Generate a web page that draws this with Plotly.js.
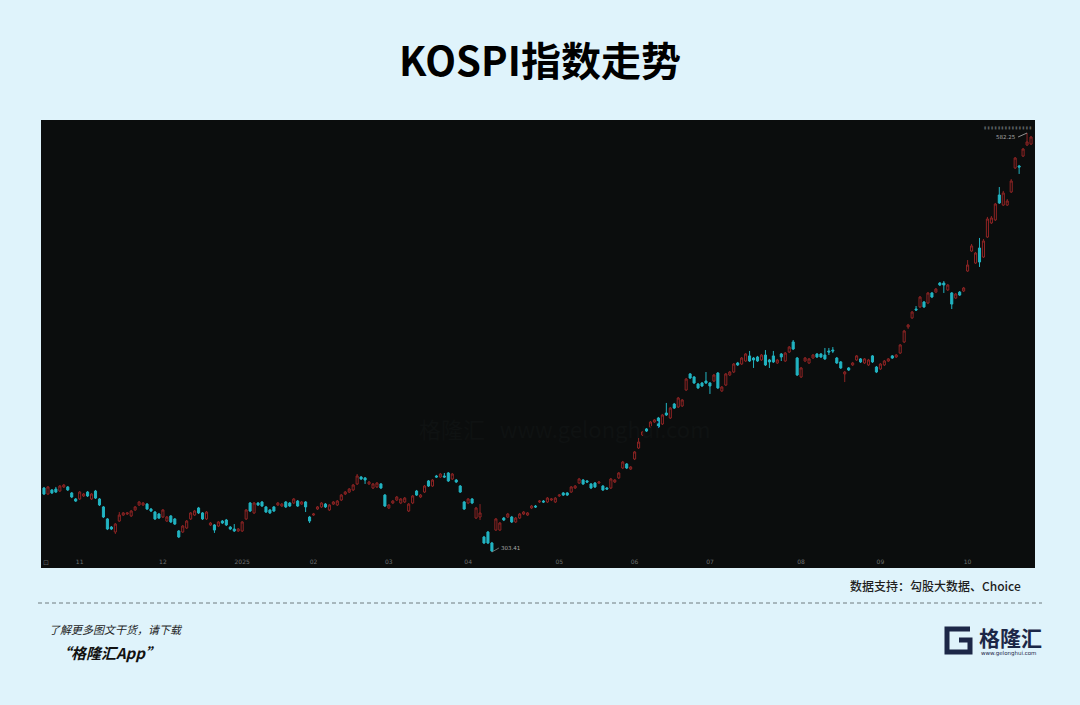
<!DOCTYPE html>
<html>
<head>
<meta charset="utf-8">
<script src="https://cdn.plot.ly/plotly-3.0.1.min.js"></script>
<style>
  html, body { margin: 0; padding: 0; background: #dff3fb; }
  #chart { width: 1080px; height: 705px; }
</style>
</head>
<body>
<div id="chart"></div>
<script>
// KOSPI 200 daily candles, Oct 2024 - Oct 2025
const openVals = [346.0,342.0,344.7,345.3,344.0,346.7,346.7,342.7,338.7,338.7,340.7,343.3,338.7,344.0,338.7,333.4,325.4,320.0,316.7,324.0,
328.0,328.7,327.4,331.4,334.7,334.7,335.3,332.0,330.0,328.7,326.7,324.0,327.4,325.4,317.4,316.7,319.4,325.4,328.0,332.7,
329.4,325.4,321.4,321.4,320.7,324.0,324.7,320.0,318.7,317.4,317.4,325.4,336.0,329.4,336.0,336.7,333.4,331.4,333.4,334.7,
334.0,336.7,336.0,336.0,337.3,335.3,336.7,326.7,328.0,332.0,333.4,335.3,331.4,335.3,334.7,338.0,342.0,343.3,344.7,348.7,
353.3,352.7,348.7,346.0,346.7,348.7,341.3,332.7,336.0,338.0,336.0,336.7,330.7,336.0,344.0,340.0,343.3,350.7,347.3,354.0,
353.3,354.0,356.0,352.0,351.3,347.3,336.7,336.0,338.7,326.0,326.7,313.4,316.7,309.4,318.0,318.0,326.0,326.7,326.7,323.4,
326.0,328.7,328.0,332.7,334.0,336.7,337.3,336.7,338.0,336.7,340.7,342.7,342.7,343.3,346.0,349.3,351.3,350.7,348.7,349.3,
349.3,347.3,346.0,346.0,350.0,352.7,359.3,362.0,358.6,365.3,372.6,381.3,385.3,386.6,389.9,392.6,388.6,395.9,392.6,401.9,
399.9,400.6,411.2,421.9,419.9,415.2,415.9,417.2,415.9,417.2,422.5,410.6,414.5,421.2,423.2,429.2,428.5,430.5,433.9,432.5,
433.2,431.2,434.5,431.2,433.9,429.2,435.2,430.5,436.5,443.2,432.5,419.9,430.5,429.2,432.5,435.2,435.2,434.5,437.2,437.8,
432.5,429.9,421.9,425.9,427.9,431.2,431.9,429.2,427.9,433.9,426.5,425.2,427.9,430.5,433.9,433.2,435.8,443.2,453.2,459.2,
465.1,466.5,469.8,469.1,475.8,476.4,482.4,482.4,477.8,475.8,472.4,476.4,477.1,490.4,503.7,495.7,505.7,499.7,513.0,522.4,
524.4,541.0,534.3,534.3,543.0,559.0,560.3,566.9,574.3,574.9];

const highVals = [346.7,347.3,345.3,346.7,348.0,348.7,347.3,343.3,339.3,344.0,342.7,344.0,342.7,344.7,339.3,334.0,326.0,320.7,322.7,330.0,
330.0,330.0,331.4,334.0,337.3,336.7,336.0,332.7,330.7,329.4,332.0,327.4,328.0,326.0,318.0,321.4,324.7,330.0,331.4,333.4,
330.0,330.7,323.4,322.0,324.0,324.7,325.4,320.7,322.0,319.4,324.0,332.0,336.7,336.7,336.7,337.3,334.0,332.0,334.0,336.7,
336.0,337.3,336.7,339.3,338.0,337.3,337.3,327.4,329.4,334.0,336.7,336.0,335.3,337.3,338.0,342.0,344.0,346.0,348.7,355.3,
354.0,353.3,350.7,349.3,350.0,349.3,342.0,335.3,338.0,340.7,339.3,340.0,336.0,341.3,344.7,342.0,348.0,351.3,352.0,354.7,
356.0,356.0,356.6,356.0,352.0,348.0,337.3,339.3,339.3,333.4,335.3,314.1,317.4,310.1,326.0,323.4,326.7,329.4,327.4,326.7,
329.4,330.7,330.0,334.7,334.7,338.0,338.0,340.0,339.3,340.0,342.0,343.3,343.3,347.3,348.0,352.7,352.0,351.3,349.3,350.0,
350.7,348.0,346.7,352.7,352.0,356.6,364.0,362.6,360.6,370.6,379.3,383.9,385.9,390.6,391.9,393.3,395.3,402.6,399.9,402.6,
406.6,405.2,419.2,422.5,420.5,415.9,416.5,423.2,416.5,421.9,423.2,413.9,422.5,423.9,429.2,429.9,433.2,435.8,437.2,433.2,
433.9,435.2,437.8,431.9,437.2,431.9,435.8,436.5,440.5,444.5,433.2,426.5,433.2,432.5,435.2,435.8,435.8,439.2,439.2,439.8,
433.2,430.5,423.9,426.5,429.9,434.5,432.5,432.5,431.9,434.5,427.2,429.2,431.2,432.5,434.5,435.2,441.8,451.2,455.2,463.8,
467.1,473.8,470.4,476.4,476.4,479.1,483.1,483.7,481.8,476.4,475.8,477.1,479.8,497.7,508.4,503.1,512.4,511.7,526.4,527.0,
535.7,546.3,543.7,538.3,551.6,566.3,561.0,572.3,582.25,580.3];

const lowVals = [341.3,341.3,342.0,342.7,343.3,346.0,344.0,339.3,336.7,338.0,340.0,340.0,338.0,338.7,334.0,326.0,318.0,318.0,315.4,323.4,
327.4,328.0,326.7,330.7,334.0,334.0,331.4,330.0,324.7,325.4,326.0,323.4,322.7,321.4,312.7,316.1,318.7,324.7,327.4,328.7,
324.7,324.7,320.7,316.1,320.0,322.0,320.7,318.0,316.7,316.7,316.7,324.7,330.0,328.7,334.0,333.4,329.4,328.7,330.0,334.0,
333.4,332.7,333.4,335.3,333.4,334.7,330.0,322.7,327.4,331.4,332.7,332.7,330.7,334.7,334.0,337.3,341.3,342.7,344.0,348.0,
351.3,348.7,348.0,345.3,346.0,345.3,333.4,332.0,335.3,337.3,335.3,336.0,330.0,335.3,340.7,339.3,342.7,346.7,346.7,352.7,
352.7,352.7,350.0,351.3,349.3,342.7,331.4,335.3,335.3,325.4,324.7,308.7,308.7,303.41,317.4,317.4,324.0,326.0,322.7,322.7,
325.4,328.0,327.4,332.0,332.7,336.0,336.0,336.0,337.3,336.0,340.0,340.7,340.7,342.7,345.3,348.7,348.0,349.3,345.3,346.0,
348.7,344.0,344.7,345.3,349.3,352.0,358.6,358.6,358.0,364.6,372.0,380.6,383.3,385.9,389.3,385.9,387.9,393.9,391.9,398.6,
399.2,399.9,410.6,418.5,415.2,411.9,413.2,415.2,408.6,416.5,411.9,409.9,413.9,420.5,422.5,427.2,427.9,429.9,429.9,425.9,
429.9,430.5,427.2,425.9,429.2,428.5,430.5,429.9,435.8,437.8,420.5,419.2,429.9,428.5,431.9,432.5,432.5,431.2,434.5,435.8,
428.5,425.2,416.5,423.9,427.2,430.5,429.2,428.5,427.2,429.2,422.5,424.5,427.2,429.9,431.9,432.5,435.2,442.5,451.9,458.5,
463.8,465.8,465.8,468.4,472.4,475.8,480.4,475.8,477.1,465.1,471.8,473.8,476.4,489.8,503.1,495.1,493.1,499.1,512.4,521.7,
523.7,535.0,533.7,533.7,542.3,558.3,555.0,566.3,573.6,574.3];

const closeVals = [342.0,346.7,342.7,343.3,347.3,348.0,344.7,340.0,337.3,343.3,342.0,340.7,342.0,339.3,334.7,326.7,318.7,318.7,322.0,328.0,
329.4,329.4,330.7,333.4,336.7,336.0,332.0,330.7,325.4,326.0,331.4,326.7,323.4,322.0,313.4,320.7,324.0,329.4,330.7,329.4,
325.4,330.0,322.7,318.0,323.4,322.7,321.4,318.7,317.4,318.7,323.4,331.4,330.7,336.0,334.7,334.0,330.0,329.4,330.7,336.0,
335.3,333.4,334.0,338.7,334.0,336.7,333.4,324.0,328.7,333.4,336.0,333.4,334.7,336.7,337.3,341.3,343.3,345.3,348.0,354.0,
352.0,351.3,350.0,348.7,349.3,346.0,334.0,334.7,337.3,340.0,338.7,339.3,335.3,340.7,341.3,341.3,347.3,347.3,351.3,353.3,
355.3,353.3,350.7,355.3,350.0,343.3,332.0,338.7,336.0,332.7,329.4,309.4,309.4,304.1,325.4,322.7,324.7,328.7,323.4,326.0,
328.7,330.0,329.4,334.0,333.4,337.3,336.7,339.3,338.7,339.3,341.3,341.3,341.3,346.7,347.3,352.0,348.7,350.0,346.0,346.7,
350.0,344.7,345.3,352.0,351.3,356.0,363.3,359.3,360.0,370.0,376.6,383.3,383.9,389.9,391.3,386.6,394.6,394.6,399.2,399.2,
405.9,404.6,418.5,419.2,415.9,412.6,413.9,415.9,413.9,421.2,412.6,413.2,421.9,423.2,428.5,427.9,432.5,435.2,430.5,431.2,
430.5,434.5,427.9,429.9,429.9,431.2,433.2,435.8,439.8,438.5,421.2,425.9,432.5,431.9,434.5,433.2,433.2,431.9,436.5,437.2,
429.2,425.9,423.2,424.5,429.2,433.9,429.9,431.9,431.2,429.9,423.2,428.5,430.5,431.9,432.5,434.5,441.2,450.5,454.5,463.1,
464.5,473.1,466.5,475.8,473.1,478.4,481.1,481.1,481.1,468.4,475.1,474.4,479.1,494.4,507.1,502.4,496.4,510.4,525.0,525.7,
535.0,535.7,542.3,537.0,550.3,565.6,559.6,571.6,576.3,579.6];

// month tick labels and the candle index where each month begins
const tickIdx  = [9, 30, 50, 68, 87, 107, 130, 149, 168, 191, 211, 233];
const tickText = ['11', '12', '2025', '02', '03', '04', '05', '06', '07', '08', '09', '10'];

const xIdx = openVals.map((_, i) => i);

// layout geometry helpers (pixel -> paper)
const L = 42, R = 1034, T = 121, B = 557;
const px = x => (x - L) / (R - L);
const py = y => (B - y) / (B - T);

const RED = '#8e2424';
const CYAN = '#22b4c2';
const PANEL = '#0b0d0d';
const CJK = '"Noto Sans CJK SC", "Noto Sans", sans-serif';

const minLow = Math.min(...lowVals);
const minIdx = lowVals.indexOf(minLow);
const maxHigh = Math.max(...highVals);
const maxIdx = highVals.indexOf(maxHigh);

const trace = {
  type: 'candlestick',
  x: xIdx,
  open: openVals, high: highVals, low: lowVals, close: closeVals,
  increasing: { line: { color: RED, width: 1 }, fillcolor: 'rgba(0,0,0,0)' },
  decreasing: { line: { color: CYAN, width: 1 }, fillcolor: CYAN },
  whiskerwidth: 0,
  hoverinfo: 'skip',
  showlegend: false
};

const layout = {
  width: 1080, height: 705,
  paper_bgcolor: '#dff3fb',
  plot_bgcolor: PANEL,
  margin: { l: L, r: 1080 - R, t: T, b: 705 - B, pad: 0 },
  title: {
    text: '<b>KOSPI指数走势</b>',
    font: { family: CJK, size: 40, color: '#000' },
    x: 0.5, xref: 'container', xanchor: 'center',
    y: 1 - 62 / 705, yref: 'container', yanchor: 'middle'
  },
  boxgap: 0.25,
  xaxis: {
    range: [-0.5, 249.75],
    tickmode: 'array', tickvals: tickIdx, ticktext: tickText,
    ticks: '', ticklen: 0,
    tickfont: { family: 'DejaVu Sans', size: 6, color: '#6b6f70' },
    showgrid: false, zeroline: false, showline: false,
    rangeslider: { visible: false },
    fixedrange: true
  },
  yaxis: {
    range: [300.08, 590.24],
    showticklabels: false, showgrid: false, zeroline: false, showline: false,
    fixedrange: true
  },
  shapes: [
    // dark chart panel (includes the axis label strip)
    { type: 'rect', xref: 'paper', yref: 'paper', layer: 'below',
      x0: px(41), x1: px(1035), y0: py(568), y1: py(120),
      fillcolor: PANEL, line: { width: 0 } },
    // dashed separator
    { type: 'line', xref: 'paper', yref: 'paper',
      x0: px(38), x1: px(1042), y0: py(603), y1: py(603),
      line: { color: '#6e7a7f', width: 1, dash: '4px,3px' } },
    // logo "G" mark
    { type: 'path', xref: 'paper', yref: 'paper',
      path: `M ${px(970)},${py(629)} L ${px(947)},${py(629)} L ${px(947)},${py(652)} L ${px(970)},${py(652)} L ${px(970)},${py(640)} L ${px(959)},${py(640)}`,
      line: { color: '#1c2747', width: 5 } }
  ],
  annotations: [
    { x: minIdx, y: minLow, xref: 'x', yref: 'y',
      text: minLow.toFixed(2), showarrow: true, arrowhead: 0, arrowwidth: 0.7,
      arrowcolor: '#9a9a9a', ax: 7, ay: -4, xanchor: 'left', yanchor: 'middle',
      font: { family: 'DejaVu Sans', size: 5.5, color: '#a8a8a8' } },
    { x: maxIdx, y: maxHigh, xref: 'x', yref: 'y',
      text: maxHigh.toFixed(2), showarrow: true, arrowhead: 0, arrowwidth: 0.7,
      arrowcolor: '#c8c8c8', ax: -9, ay: 4, xanchor: 'right', yanchor: 'middle',
      font: { family: 'DejaVu Sans', size: 5.5, color: '#a8a8a8' } },
    // toolbar marks at the top right of the panel
    { xref: 'paper', yref: 'paper', x: px(1033), y: py(127), xanchor: 'right', yanchor: 'middle',
      text: '▮ ▮ ▮ ▮ ▮ ▮ ▮ ▮ ▮ ▮ ▮ ▮ ▮ ▮', showarrow: false,
      font: { family: 'DejaVu Sans', size: 4, color: '#5d6263' } },
    // small icon bottom-left of panel
    { xref: 'paper', yref: 'paper', x: px(46), y: py(563), xanchor: 'center', yanchor: 'middle',
      text: '⊡', showarrow: false, font: { family: 'DejaVu Sans', size: 7, color: '#5d6263' } },
    // faint watermark
    { xref: 'paper', yref: 'paper', x: px(565), y: py(428), xanchor: 'center', yanchor: 'middle',
      text: '格隆汇   www.gelonghui.com', showarrow: false,
      font: { family: CJK, size: 22, color: '#0f1212' } },
    // source
    { xref: 'paper', yref: 'paper', x: px(1023), y: py(585), xanchor: 'right', yanchor: 'middle',
      text: '数据支持：勾股大数据、Choice', showarrow: false,
      font: { family: CJK, size: 12, color: '#1e1e1e', weight: 500 } },
    // footer left
    { xref: 'paper', yref: 'paper', x: px(47), y: py(629), xanchor: 'left', yanchor: 'middle',
      text: '<i>了解更多图文干货，请下载</i>', showarrow: false,
      font: { family: CJK, size: 11, color: '#1e1e1e' } },
    { xref: 'paper', yref: 'paper', x: px(54), y: py(652), xanchor: 'left', yanchor: 'middle',
      text: '<b><i>“格隆汇App”</i></b>', showarrow: false,
      font: { family: CJK, size: 15, color: '#111' } },
    // logo text
    { xref: 'paper', yref: 'paper', x: px(977), y: py(637), xanchor: 'left', yanchor: 'middle',
      text: '<b>格隆汇</b>', showarrow: false,
      font: { family: CJK, size: 21, color: '#1c2747' } },
    { xref: 'paper', yref: 'paper', x: px(979), y: py(653), xanchor: 'left', yanchor: 'middle',
      text: 'www.gelonghui.com', showarrow: false,
      font: { family: 'DejaVu Sans', size: 5.5, color: '#1c2747' } }
  ]
};

Plotly.newPlot('chart', [trace], layout, { displayModeBar: false, staticPlot: true });
</script>
</body>
</html>
